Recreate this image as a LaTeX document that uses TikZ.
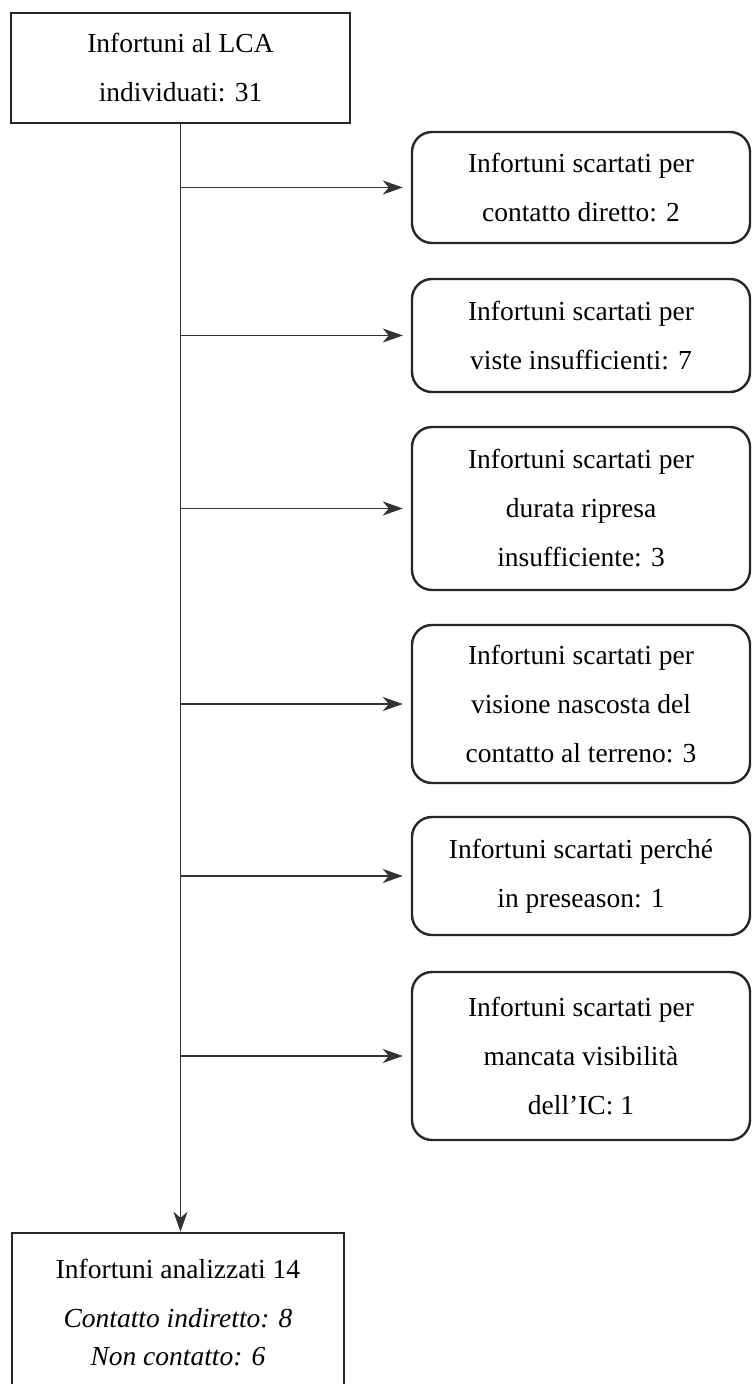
\documentclass[tikz,border=0pt]{standalone}
\usepackage{fontspec}
\setmainfont{Liberation Serif}
\usetikzlibrary{arrows.meta}

\tikzset{
  box/.style={draw=black!85, line width=1.2pt, align=center, inner sep=0pt,
    font=\fontsize{13.75}{24.5}\selectfont},
  outbox/.style={box, rounded corners=10pt, minimum width=169pt},
  arr/.style={-{Stealth[length=10pt,width=7pt,inset=3pt]}, line width=0.9pt, draw=black!80},
}

\begin{document}
\begin{tikzpicture}[x=0.5pt,y=-0.5pt]
    \useasboundingbox (0,0) rectangle (753,1384);
    \clip (0,0) rectangle (753,1384);

    % main column
    \node[box, minimum width=169.5pt, minimum height=55pt] (lca) at (180.5,68)
        {Infortuni al LCA\\individuati: 31};
    \node[box, minimum width=166pt, minimum height=79.5pt] (res) at (178,1312.5)
        {Infortuni analizzati 14\\\textit{Contatto indiretto: 8}\\[-5.5pt]\textit{Non contatto: 6}};

    % excluded injuries
    \node[outbox, minimum height=55.5pt] (ex1) at (581,187.5)
        {Infortuni scartati per\\contatto diretto: 2};
    \node[outbox, minimum height=56.5pt] (ex2) at (581,335.5)
        {Infortuni scartati per\\viste insufficienti: 7};
    \node[outbox, minimum height=81.5pt] (ex3) at (581,508.5)
        {Infortuni scartati per\\durata ripresa\\insufficiente: 3};
    \node[outbox, minimum height=79pt] (ex4) at (581,704)
        {Infortuni scartati per\\visione nascosta del\\contatto al terreno: 3};
    \node[outbox, minimum height=59pt] (ex5) at (581,876)
        {Infortuni scartati perché\\in preseason: 1};
    \node[outbox, minimum height=84pt] (ex6) at (581,1056)
        {Infortuni scartati per\\mancata visibilità\\dell’IC: 1};

    % connectors
    \draw[arr] (lca.south) -- (lca.south |- res.north);
    \foreach \n in {ex1,ex2,ex3,ex4,ex5,ex6}
        \draw[arr, shorten >=4pt] (lca.south |- \n.west) -- (\n.west);
\end{tikzpicture}
\end{document}
